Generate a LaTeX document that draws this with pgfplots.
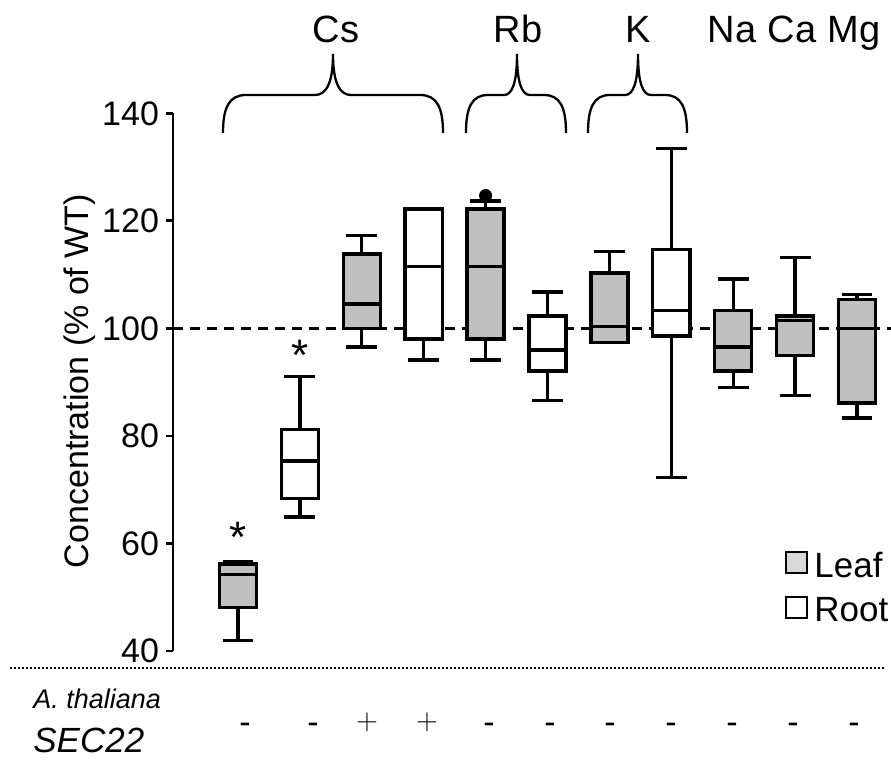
\documentclass[border=0pt]{standalone}
\usepackage{fontspec}
\setmainfont{Liberation Sans}
\usepackage{pgfplots}
\pgfplotsset{compat=1.18}
\usepgfplotslibrary{statistics}
\definecolor{leafgray}{RGB}{192,192,192}
\definecolor{leggray}{RGB}{217,217,217}
% brace: x1, tip x, x2, corner width, tip width (pixel units)
\newcommand{\mybrace}[5]{%
 \draw[line width=1.15pt] (#1,133) .. controls (#1,108) and ({#1+0.25*#4},95) .. ({#1+#4},95)
   -- ({#2-#5},95) .. controls ({#2-0.35*#5},95) and (#2,82) .. (#2,54)
   .. controls (#2,82) and ({#2+0.35*#5},95) .. ({#2+#5},95)
   -- ({#3-#4},95) .. controls ({#3-0.25*#4},95) and (#3,108) .. (#3,133);}
\pgfplotsset{
  leafbox/.style={draw=black, fill=leafgray, line width=1.7pt},
  rootbox/.style={draw=black, fill=white, line width=1.7pt},
}
\begin{document}
\begin{tikzpicture}
\useasboundingbox (-86.5pt,-58pt) rectangle (359pt,325.5pt);
\begin{axis}[
  at={(0,0)}, anchor=south west,
  width=359pt, height=268.85pt, scale only axis,
  xmin=-0.05, xmax=11.549, ymin=40, ymax=140,
  hide x axis,
  axis y line*=left,
  y axis line style={line width=1.4pt},
  ytick={40,60,80,100,120,140},
  tick align=outside,
  major tick length=3.5pt,
  ytick style={line width=1.4pt, black},
  yticklabel style={font=\fontsize{17}{20}\selectfont},
  /pgf/number format/assume math mode=true,
  clip=false,
  boxplot/draw direction=y,
  boxplot/box extend=0.6,
  boxplot/whisker extend=0.5,
]
% reference line at 100 %
\addplot[black, line width=1.2pt, dash pattern=on 5pt off 3.5pt, forget plot] coordinates {(-0.05,100) (11.549,100)};
% Cs leaf, -
\addplot[leafbox, boxplot prepared={draw position=1, lower whisker=41.9, lower quartile=48.1, median=54.2, upper quartile=56.2, upper whisker=56.6}] coordinates {};
% Cs root, -
\addplot[rootbox, boxplot prepared={draw position=2, lower whisker=64.9, lower quartile=68.4, median=75.3, upper quartile=81.2, upper whisker=91.1}] coordinates {};
% Cs leaf, +
\addplot[leafbox, boxplot prepared={draw position=3, lower whisker=96.5, lower quartile=100.0, median=104.5, upper quartile=113.8, upper whisker=117.3}] coordinates {};
% Cs root, +
\addplot[rootbox, boxplot prepared={draw position=4, lower whisker=94.1, lower quartile=98.0, median=111.5, upper quartile=122.2, upper whisker=122.2}] coordinates {};
% Rb leaf
\addplot[leafbox, mark=*, mark size=3pt, mark options={fill=black, draw=black, line width=0.5pt}, boxplot prepared={draw position=5, lower whisker=94.1, lower quartile=98.0, median=111.5, upper quartile=122.2, upper whisker=123.7}] table[row sep=\\, y index=0] {data\\ 124.7\\};
% Rb root
\addplot[rootbox, boxplot prepared={draw position=6, lower whisker=86.6, lower quartile=92.1, median=96.0, upper quartile=102.3, upper whisker=106.8}] coordinates {};
% K leaf
\addplot[leafbox, boxplot prepared={draw position=7, lower whisker=97.4, lower quartile=97.4, median=100.3, upper quartile=110.3, upper whisker=114.3}] coordinates {};
% K root
\addplot[rootbox, boxplot prepared={draw position=8, lower whisker=72.3, lower quartile=98.6, median=103.3, upper quartile=114.7, upper whisker=133.4}] coordinates {};
% Na leaf
\addplot[leafbox, boxplot prepared={draw position=9, lower whisker=89.0, lower quartile=92.1, median=96.5, upper quartile=103.3, upper whisker=109.2}] coordinates {};
% Ca leaf
\addplot[leafbox, boxplot prepared={draw position=10, lower whisker=87.5, lower quartile=95.0, median=101.5, upper quartile=102.3, upper whisker=113.2}] coordinates {};
% Mg leaf
\addplot[leafbox, boxplot prepared={draw position=11, lower whisker=83.3, lower quartile=86.1, median=100.0, upper quartile=105.4, upper whisker=106.3}] coordinates {};
% significance marks
\node[anchor=base, font=\fontsize{22}{26}\selectfont, inner sep=0pt] at (axis cs:1,58.4) {*};
\node[anchor=base, font=\fontsize{22}{26}\selectfont, inner sep=0pt] at (axis cs:2,92.1) {*};
\end{axis}
\begin{scope}[x=0.5pt,y=-0.5pt,xshift=-86.5pt,yshift=325.5pt]
% y label
\node[rotate=90, font=\fontsize{17}{20}\selectfont, inner sep=0pt] at (80,381) {Concentration (\% of WT)};
% top labels
\begin{scope}[every node/.style={anchor=base, font=\fontsize{19}{22}\selectfont, inner sep=0pt}]
\node at (336,43) {Cs};
\node at (518,43) {Rb};
\node at (638,43) {K};
\node at (732,43) {Na};
\node at (792,43) {Ca};
\node at (854,43) {Mg};
\end{scope}
% braces
\mybrace{223}{333}{443}{23}{18}
\mybrace{466}{517}{566}{22}{13}
\mybrace{588}{638}{687}{22}{13}
% legend
\draw[line width=1.2pt, fill=leggray] (786,552) rectangle (807,573);
\draw[line width=1.2pt, fill=white] (786,597) rectangle (807,618);
\node[anchor=base west, font=\fontsize{17.5}{20}\selectfont, inner sep=0pt] at (814,578) {Leaf};
\node[anchor=base west, font=\fontsize{17.5}{20}\selectfont, inner sep=0pt] at (814,622) {Root};
% dotted separator
\draw[line width=1.2pt, dash pattern=on 1pt off 1pt] (10,668) -- (885,668);
% genotype rows
\node[anchor=base west, font=\itshape\fontsize{13.5}{16}\selectfont, inner sep=0pt] at (33,708) {A. thaliana};
\node[anchor=base west, font=\itshape\fontsize{17.5}{20}\selectfont, inner sep=0pt] at (33,752) {SEC22};
\begin{scope}[every node/.style={anchor=base, font=\fontsize{17}{20}\selectfont, inner sep=0pt}]
\node at (245,734) {-};
\node at (313,734) {-};
\node at (489,734) {-};
\node at (550,734) {-};
\node at (610,734) {-};
\node at (671,734) {-};
\node at (732,734) {-};
\node at (793,734) {-};
\node at (854,734) {-};
\node at (367,729) {\fontsize{15}{18}\selectfont$+$};
\node at (427,729) {\fontsize{15}{18}\selectfont$+$};
\end{scope}
\end{scope}
\end{tikzpicture}
\end{document}
